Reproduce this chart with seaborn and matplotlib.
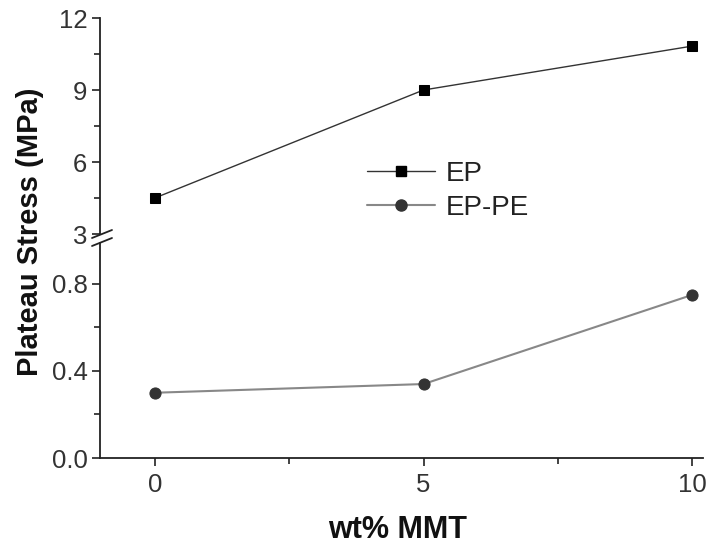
import matplotlib
matplotlib.use("Agg")
import matplotlib.pyplot as plt
from matplotlib.ticker import MultipleLocator
from matplotlib.lines import Line2D
import seaborn as sns
import pandas as pd

wt_mmt = [0, 5, 10]
ep_stress = [4.5, 9.0, 10.83]
ep_pe_stress = [0.30, 0.34, 0.75]
x_ticks = [0, 5, 10]
upper_ticks = [3, 6, 9, 12]
lower_ticks = [0.0, 0.4, 0.8]

sns.set_theme(style="ticks")
plt.rcParams['font.family'] = ['Liberation Sans', 'DejaVu Sans']

df_ep = pd.DataFrame({"wt": wt_mmt, "stress": ep_stress, "series": "EP"})
df_pe = pd.DataFrame({"wt": wt_mmt, "stress": ep_pe_stress, "series": "EP-PE"})

fig = plt.figure(figsize=(7.08, 5.48), dpi=100)
left, right = 100 / 708, 703 / 708
ax_up = fig.add_axes([left, 1 - 234 / 548, right - left, 216 / 548])
ax_lo = fig.add_axes([left, 1 - 458 / 548, right - left, 215 / 548])

ep_style = dict(color="#333333", marker="s", markersize=7, markerfacecolor="black",
                markeredgecolor="black", linewidth=1.0)
pe_style = dict(color="#888888", marker="o", markersize=8, markerfacecolor="#333333",
                markeredgecolor="#333333", linewidth=1.5)

sns.lineplot(data=df_ep, x="wt", y="stress", ax=ax_up, label="EP", legend=False, **ep_style)
sns.lineplot(data=df_pe, x="wt", y="stress", ax=ax_lo, label="EP-PE", legend=False, **pe_style)

xlim = (-1.02, 10.2)
for ax in (ax_up, ax_lo):
    ax.set_xlim(*xlim)
    ax.spines['top'].set_visible(False)
    ax.spines['right'].set_visible(False)
    for s in ('left', 'bottom'):
        ax.spines[s].set_color('#222222')
        ax.spines[s].set_linewidth(1.3)
    ax.tick_params(which='major', direction='out', length=6, width=1.2,
                   color='#222222', labelsize=18.5, labelcolor='#333333', pad=3)
    ax.tick_params(which='minor', direction='out', length=4, width=1.2, color='#222222')
    ax.set_xlabel("")
    ax.set_ylabel("")
    ax.set_facecolor('white')

ax_up.set_ylim(3, 12)
ax_up.set_yticks(upper_ticks)
ax_up.yaxis.set_minor_locator(MultipleLocator(1.5))
ax_up.spines['bottom'].set_visible(False)
ax_up.tick_params(axis='x', which='both', bottom=False, labelbottom=False)

ax_lo.set_ylim(0, 0.9885)
ax_lo.set_yticks(lower_ticks)
ax_lo.set_yticklabels(["0.0", "0.4", "0.8"])
ax_lo.yaxis.set_minor_locator(MultipleLocator(0.2))
ax_lo.set_xticks(x_ticks)
ax_lo.xaxis.set_minor_locator(MultipleLocator(2.5))
ax_lo.tick_params(axis='x', pad=5)

# break marks
for yb in (234, 242):
    fig.add_artist(Line2D([left - 8 / 708, left + 12 / 708],
                          [1 - (yb + 4) / 548, 1 - (yb - 4) / 548],
                          color='#222222', linewidth=1.3))

handles = [Line2D([], [], **ep_style), Line2D([], [], **pe_style)]
fig.legend(handles, ["EP", "EP-PE"], loc="center left", bbox_to_anchor=(353 / 708, 1 - 191 / 548),
           frameon=False, fontsize=20, handlelength=2.45, labelspacing=0.3,
           handletextpad=0.4, borderpad=0, labelcolor='#222222')

fig.text(30 / 708, 1 - 232 / 548, "Plateau Stress (MPa)", rotation=90, ha='center',
         va='center', fontsize=21, fontweight='bold', color='#111111')
fig.text(398 / 708, 1 - 530 / 548, "wt% MMT", ha='center', va='center',
         fontsize=22, fontweight='bold', color='#111111')

fig.savefig("out.png", dpi=100, facecolor='white')
